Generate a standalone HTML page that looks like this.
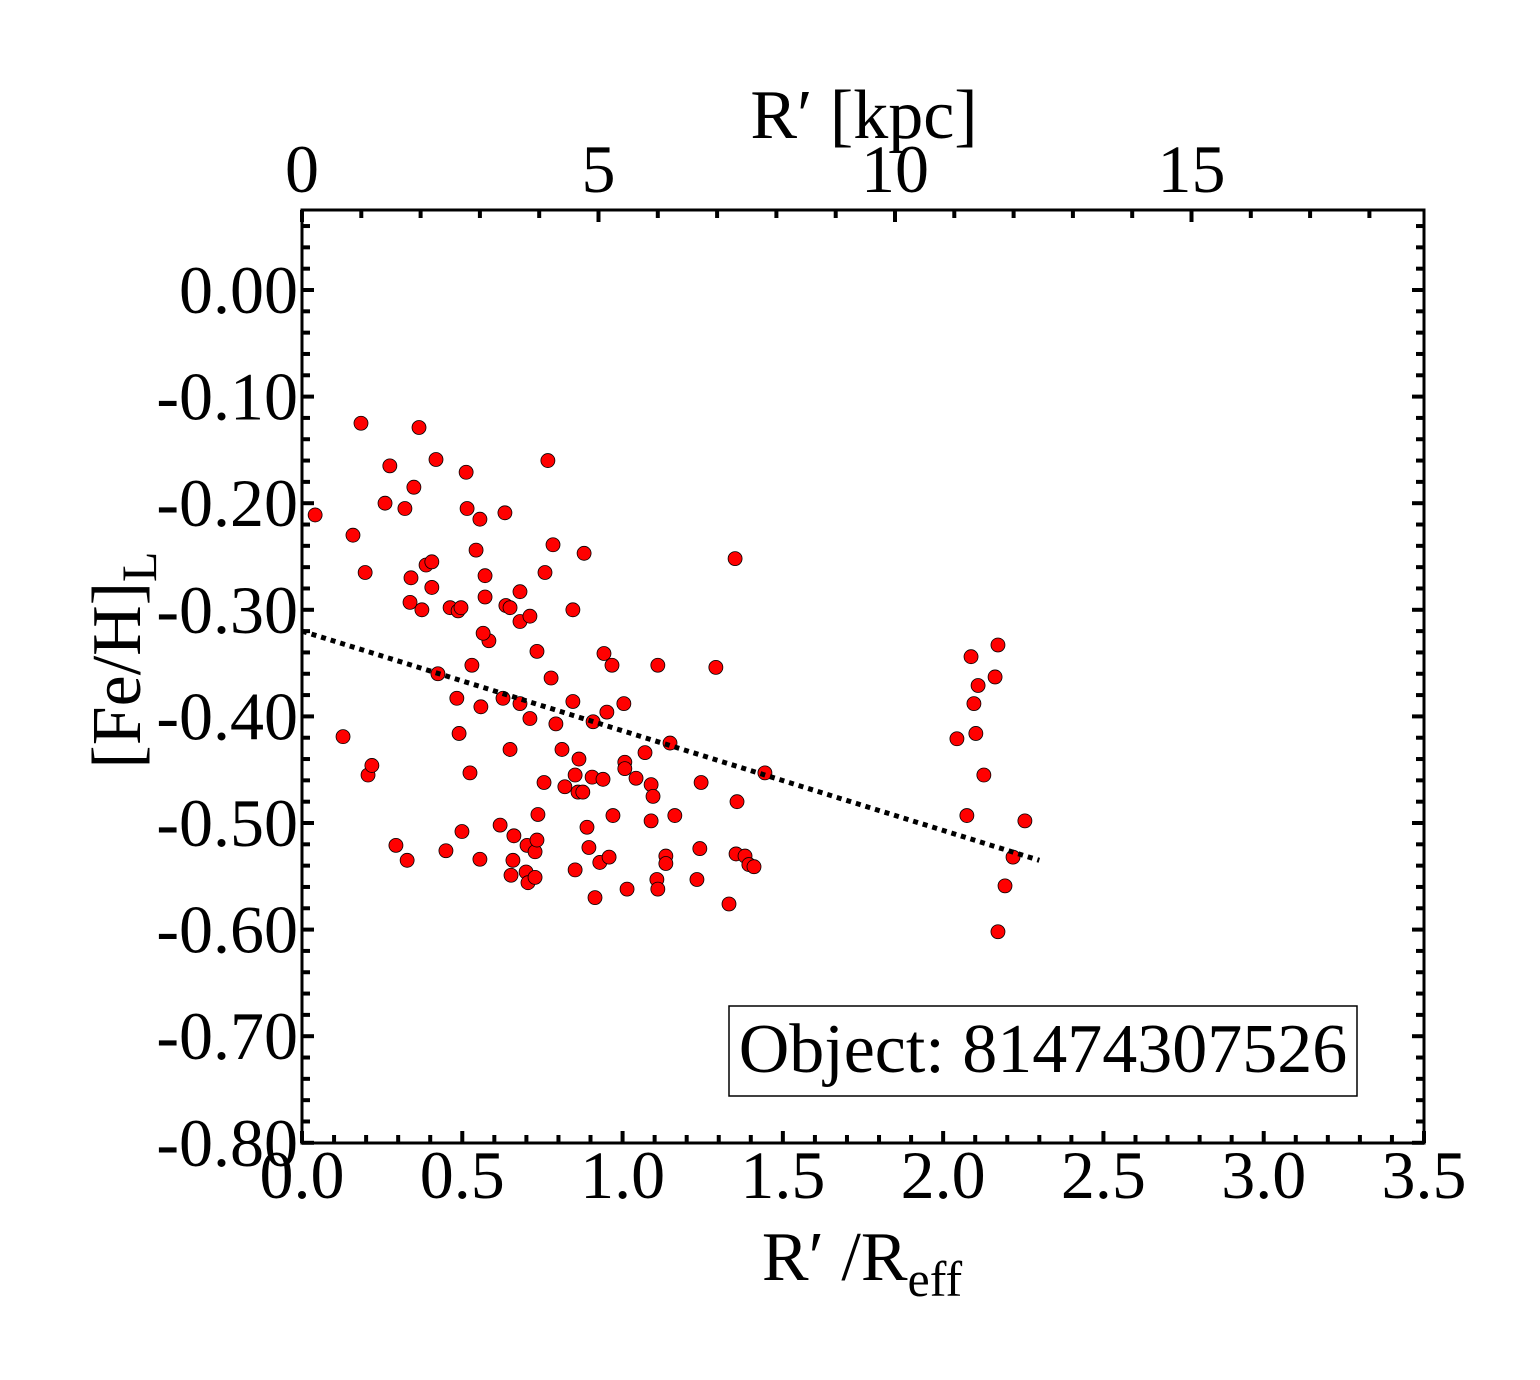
<!DOCTYPE html>
<html><head><meta charset="utf-8"><style>
html,body{margin:0;padding:0;background:#fff;}
svg text{font-family:"Liberation Serif",serif;fill:#000;}
</style></head><body>
<svg id="chart" width="1540" height="1375" xmlns="http://www.w3.org/2000/svg">
<g id="ticks"></g>
<g id="pts"></g>
<line id="fit" stroke="#000" stroke-width="5" stroke-dasharray="5,5"/>
<rect x="302" y="210" width="1122" height="933" fill="none" stroke="#000" stroke-width="3"/>
<g id="labels"></g>
<text x="862" y="1280" font-size="70" text-anchor="middle">R′ /R<tspan font-size="50" dy="16">eff</tspan></text>
<text x="864" y="138" font-size="70" text-anchor="middle">R′ [kpc]</text>
<text transform="translate(140,660) rotate(-90)" font-size="70" text-anchor="middle">[Fe/H]<tspan font-size="50" dy="16">L</tspan></text>
<rect x="729" y="1006" width="628" height="90" fill="#fff" stroke="#000" stroke-width="1.5"/>
<text x="1043" y="1072" font-size="70" text-anchor="middle">Object: 81474307526</text>
</svg>
<script>
const xVals=[0.041,0.184,0.159,0.197,0.128,0.206,0.218,0.274,0.259,0.321,0.349,0.365,0.418,0.340,0.337,0.374,0.387,0.405,0.405,0.424,0.293,0.328,0.449,0.462,0.487,0.496,0.483,0.490,0.499,0.512,0.515,0.555,0.543,0.530,0.524,0.571,0.571,0.583,0.565,0.558,0.555,0.633,0.636,0.649,0.627,0.649,0.618,0.661,0.658,0.652,0.680,0.680,0.680,0.711,0.711,0.702,0.699,0.705,0.727,0.733,0.736,0.727,0.733,0.758,0.755,0.767,0.783,0.777,0.792,0.811,0.820,0.845,0.845,0.852,0.852,0.861,0.864,0.876,0.880,0.889,0.895,0.908,0.905,0.914,0.942,0.951,0.929,0.939,0.958,0.967,0.970,1.004,1.007,1.007,1.014,1.042,1.070,1.089,1.095,1.089,1.110,1.107,1.110,1.135,1.135,1.148,1.163,1.232,1.241,1.245,1.291,1.332,1.351,1.357,1.354,1.382,1.394,1.410,1.444,2.043,2.074,2.087,2.096,2.102,2.109,2.127,2.162,2.171,2.171,2.193,2.218,2.255];
const yVals=[-0.211,-0.125,-0.230,-0.265,-0.419,-0.455,-0.446,-0.165,-0.200,-0.205,-0.185,-0.129,-0.159,-0.270,-0.293,-0.300,-0.258,-0.255,-0.279,-0.360,-0.521,-0.535,-0.526,-0.298,-0.301,-0.298,-0.383,-0.416,-0.508,-0.171,-0.205,-0.215,-0.244,-0.352,-0.453,-0.268,-0.288,-0.329,-0.322,-0.391,-0.534,-0.209,-0.296,-0.298,-0.383,-0.431,-0.502,-0.512,-0.535,-0.549,-0.283,-0.311,-0.388,-0.306,-0.402,-0.521,-0.546,-0.556,-0.527,-0.516,-0.492,-0.551,-0.339,-0.265,-0.462,-0.160,-0.239,-0.364,-0.407,-0.431,-0.466,-0.300,-0.386,-0.544,-0.455,-0.471,-0.440,-0.471,-0.247,-0.504,-0.523,-0.405,-0.457,-0.570,-0.341,-0.396,-0.537,-0.459,-0.532,-0.352,-0.493,-0.388,-0.443,-0.449,-0.562,-0.458,-0.434,-0.464,-0.475,-0.498,-0.352,-0.553,-0.562,-0.531,-0.538,-0.425,-0.493,-0.553,-0.524,-0.462,-0.354,-0.576,-0.252,-0.480,-0.529,-0.531,-0.539,-0.541,-0.453,-0.421,-0.493,-0.344,-0.388,-0.416,-0.371,-0.455,-0.363,-0.333,-0.602,-0.559,-0.532,-0.498];
const fitX=[0.0,2.30];
const fitY=[-0.320,-0.535];
const xTickLabels=["0.0","0.5","1.0","1.5","2.0","2.5","3.0","3.5"];
const yTickLabels=["0.00","-0.10","-0.20","-0.30","-0.40","-0.50","-0.60","-0.70","-0.80"];
const kpcTickLabels=["0","5","10","15"];

const L=302,R=1424,T=210,B=1143;
const X=v=>L+v/3.5*(R-L);
const Y=v=>290+(-v)*1066;
const K=v=>L+v*59.3;
const NS="http://www.w3.org/2000/svg";
function mk(tag,parent,attrs){const e=document.createElementNS(NS,tag);for(const k in attrs)e.setAttribute(k,attrs[k]);parent.appendChild(e);return e;}
const tg=document.getElementById('ticks'),lg=document.getElementById('labels'),pg=document.getElementById('pts');
for(let i=0;i<=35;i++){const x=X(i/10);const len=i%5==0?12:8;
 let t=mk('line',tg,{x1:x,x2:x,y1:B,y2:B-len,stroke:'#000','stroke-width':4});
 }
xTickLabels.forEach((s,i)=>{const t=mk('text',lg,{x:X(parseFloat(s)),y:1198,'font-size':68,'text-anchor':'middle'});t.textContent=s;
 });
for(let i=0;i<=18;i++){const x=K(i);const len=i%5==0?12:8;
 let t=mk('line',tg,{x1:x,x2:x,y1:T,y2:T+len,stroke:'#000','stroke-width':4});
 }
kpcTickLabels.forEach(s=>{const t=mk('text',lg,{x:K(parseFloat(s)),y:192,'font-size':68,'text-anchor':'middle'});t.textContent=s;
 });
for(let i=-40;i<=3;i++){const v=i/50;const y=Y(v);if(y<T-1||y>B+1)continue;const len=i%5==0?12:8;
 let t=mk('line',tg,{x1:L,x2:L+len,y1:y,y2:y,stroke:'#000','stroke-width':4});
 
 let t2=mk('line',tg,{x1:R,x2:R-len,y1:y,y2:y,stroke:'#000','stroke-width':4});
 }
yTickLabels.forEach(s=>{const t=mk('text',lg,{x:298,y:Y(parseFloat(s))+23,'font-size':68,'text-anchor':'end'});t.textContent=s;
 });
xVals.forEach((v,i)=>{const c=mk('circle',pg,{cx:X(v),cy:Y(yVals[i]),r:7,fill:'#ff0000',stroke:'#000','stroke-width':0.8});
 });
const f=document.getElementById('fit');
f.setAttribute('x1',X(fitX[0]));f.setAttribute('y1',Y(fitY[0]));f.setAttribute('x2',X(fitX[1]));f.setAttribute('y2',Y(fitY[1]));
</script>
</body></html>
